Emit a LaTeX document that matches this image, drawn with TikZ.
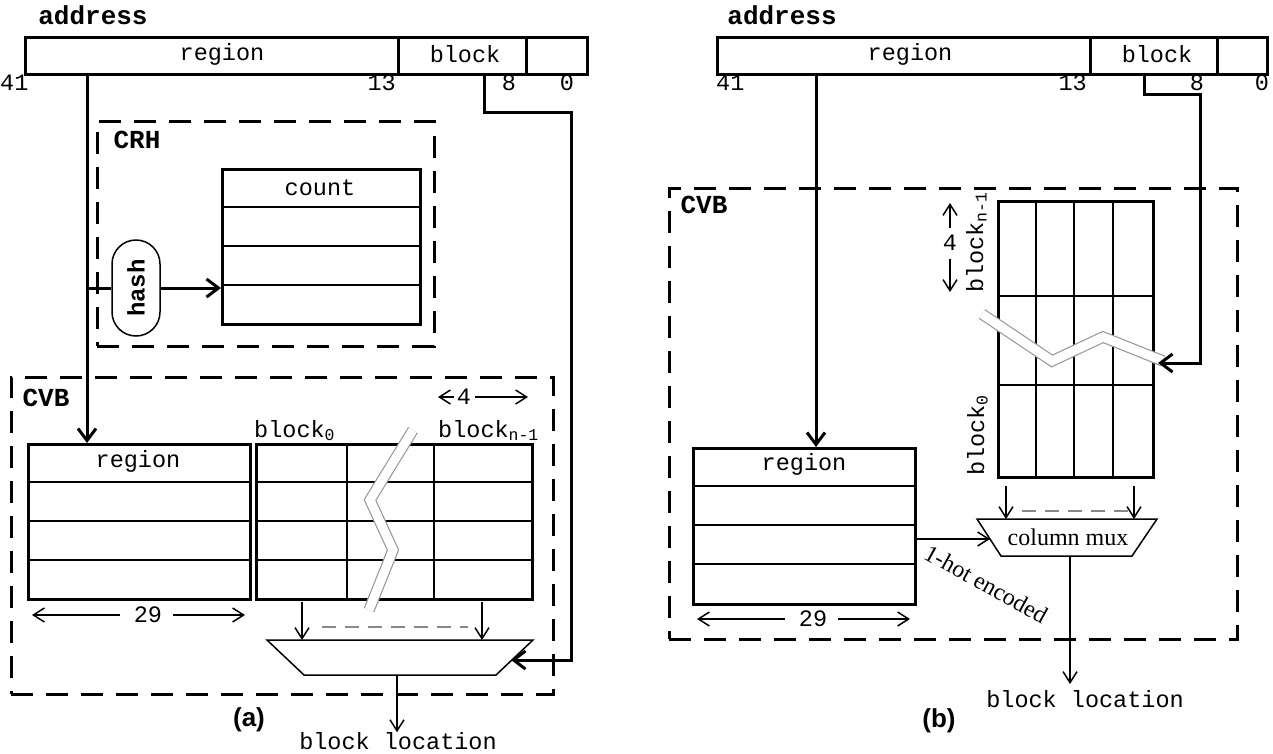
\documentclass[tikz,border=0pt]{standalone}
\usepackage{fontspec}
\setmainfont{Liberation Serif}
\setmonofont{Liberation Mono}
\newfontfamily\arialfont{Liberation Sans}
\usetikzlibrary{arrows.meta}
\definecolor{brk}{HTML}{999999}
\definecolor{dgray}{HTML}{888888}
\tikzset{
  mono/.style={font=\ttfamily\fontsize{23.5}{28}\selectfont, inner sep=0pt},
  lbl/.style={font=\ttfamily\bfseries\fontsize{26}{30}\selectfont, inner sep=0pt},
  captxt/.style={font=\arialfont\bfseries\fontsize{26}{30}\selectfont, inner sep=0pt},
  serif/.style={font=\fontsize{24}{28}\selectfont, inner sep=0pt},
  field/.style={draw, line width=3pt, inner sep=0pt, anchor=north west},
  tbl/.style={draw, line width=2.5pt, inner sep=0pt, anchor=north west},
  tline/.style={line width=2.5pt},
  dbox/.style={draw, line width=2.5pt, dash pattern=on 22pt off 13pt, inner sep=0pt, anchor=north west},
  wire/.style={line width=3pt, -{Straight Barb[length=12pt,width=18pt]}},
  wireplain/.style={line width=3pt},
  thin/.style={line width=1.5pt, -{Straight Barb[length=11pt,width=14pt]}},
  muxshape/.style={draw, line width=1.5pt, fill=white},
  brkline/.style={draw=brk, line width=1.2pt, double=white, double distance=9pt, line join=miter},
  gdash/.style={draw=dgray, line width=2pt, dash pattern=on 14pt off 9pt},
}
\begin{document}
\begin{tikzpicture}[x=1pt,y=-1pt]
\useasboundingbox (0,0) rectangle (1273,753);

%%%%%%%%%%%%%%%% LEFT PANEL (a)
\node[lbl] (addrA) at (93,15) {address};
\node[field, minimum width=373pt, minimum height=37pt] (fRegA) at (24,36) {};
\node[field, minimum width=128pt, minimum height=37pt] (fBlkA) at (397,36) {};
\node[field, minimum width=61pt, minimum height=37pt] (fLowA) at (525,36) {};
\node[mono] (tRegA) at (222,54) {region};
\node[mono] (tBlkA) at (465,54) {block};
\node[mono, anchor=base west] (n41A) at (0,90) {41};
\node[mono, anchor=base east] (n13A) at (396,90) {13};
\node[mono, anchor=base] (n8A) at (509,90) {8};
\node[mono, anchor=base] (n0A) at (567,90) {0};

% CRH
\node[dbox, minimum width=337pt, minimum height=225pt] (crh) at (96,120) {};
\node[lbl] (crhT) at (137,140) {CRH};
\node[tbl, minimum width=198pt, minimum height=155pt] (cnt) at (221,168) {};
\draw[tline] (221,207) -- (419,207) (221,246) -- (419,246) (221,285) -- (419,285);
\node[mono] (cntT) at (320,188) {count};

% CVB
\node[dbox, minimum width=542pt, minimum height=317pt] (cvbA) at (10,376) {};
\node[lbl] (cvbAT) at (46,398) {CVB};
\node[tbl, minimum width=222pt, minimum height=155pt] (regA) at (27,443) {};
\draw[tline] (27,482) -- (249,482) (27,521) -- (249,521) (27,560) -- (249,560);
\node[mono] (regAT) at (138,461) {region};
\node[tbl, minimum width=276pt, minimum height=155pt] (blkA) at (255,443) {};
\draw[tline] (255,482) -- (531,482) (255,521) -- (531,521) (255,560) -- (531,560)
  (347,443) -- (347,598) (434,443) -- (434,598);
\node[mono, anchor=base west] (b0A) at (254,437) {block\textsubscript{0}};
\node[mono, anchor=base west] (bnA) at (438,437) {block\textsubscript{n-1}};
% 4 dimension
\node[mono] (fourA) at (464,397) {4};
\draw[thin] (454,397) -- (438,397);
\draw[thin] (475,397) -- (528,397);
% 29 dimension
\node[mono] (ninA) at (148,615) {29};
\draw[thin] (120,615) -- (32,615);
\draw[thin] (173,615) -- (245,615);
% break
\draw[brkline] (413,430) -- (370,500) -- (393,550) -- (369,610);
% mux
\path[muxshape] (267,640) -- (533,640) -- (496,675) -- (304,675) -- cycle;
\coordinate (muxAin1) at (302,640);
\coordinate (muxAin2) at (482,640);
\coordinate (muxAR) at (511,660);
\coordinate (muxAout) at (397,675);
\draw[thin] (302,602) -- (muxAin1);
\draw[thin] (482,602) -- (muxAin2);
\draw[gdash] (322,627) -- (468,627);
\node[captxt] (capA) at (249,720) {(a)};
\node[mono] (locA) at (398,741) {block location};
\draw[thin] (muxAout) -- (locA.north -| muxAout);

% wires
\coordinate (rA) at (87,73);
\coordinate (hsA) at (87,288);
\draw[wire] (rA) -- (rA |- regA.north);
\node[draw, line width=1.5pt, fill=white, rounded corners=24pt, minimum width=96pt, minimum height=48pt, rotate=90, font=\ttfamily\bfseries\fontsize{24}{28}\selectfont, inner sep=0pt] (hash) at (136,288) {hash};
\draw[wireplain] (hsA) -- (hash);
\draw[wire] (hash) -- (cnt.west |- hash);
\coordinate (bA) at (484,73);
\draw[wire] (bA) -- (484,112) -| (571,660) -- (muxAR);

%%%%%%%%%%%%%%%% RIGHT PANEL (b)
\node[lbl] (addrB) at (782,15) {address};
\node[field, minimum width=373pt, minimum height=37pt] (fRegB) at (716,36) {};
\node[field, minimum width=127pt, minimum height=37pt] (fBlkB) at (1089,36) {};
\node[field, minimum width=50pt, minimum height=37pt] (fLowB) at (1216,36) {};
\node[mono] (tRegB) at (910,54) {region};
\node[mono] (tBlkB) at (1157,54) {block};
\node[mono, anchor=base west] (n41B) at (716,90) {41};
\node[mono, anchor=base east] (n13B) at (1087,90) {13};
\node[mono, anchor=base] (n8B) at (1197,90) {8};
\node[mono, anchor=base] (n0B) at (1262,90) {0};

\node[dbox, minimum width=568pt, minimum height=451pt] (cvbB) at (668,187) {};
\node[lbl] (cvbBT) at (704,205) {CVB};

% vertical block table
\node[tbl, minimum width=155pt, minimum height=276pt] (blkB) at (997,200) {};
\draw[tline] (1036,200) -- (1036,476) (1074,200) -- (1074,476) (1113,200) -- (1113,476)
  (997,296) -- (1152,296) (997,385) -- (1152,385);
\node[mono, rotate=90, anchor=base east] (bnB) at (983,192) {block\textsubscript{n-1}};
\node[mono, rotate=90, anchor=base west] (b0B) at (984,476) {block\textsubscript{0}};
\node[mono] (fourB) at (950,243) {4};
\draw[thin] (950,228) -- (950,203);
\draw[thin] (950,259) -- (950,292);
\draw[brkline] (982,314) -- (1052,361) -- (1103,337) -- (1163,361);

% region table
\node[tbl, minimum width=222pt, minimum height=156pt] (regB) at (692,447) {};
\draw[tline] (692,486) -- (914,486) (692,525) -- (914,525) (692,564) -- (914,564);
\node[mono] (regBT) at (804,464) {region};
\node[mono] (ninB) at (813,619) {29};
\draw[thin] (785,619) -- (697,619);
\draw[thin] (838,619) -- (910,619);

% column mux
\path[muxshape] (977,519) -- (1157,519) -- (1132,556) -- (1001,556) -- cycle;
\node[serif] (muxBT) at (1068,537) {column mux};
\coordinate (muxBin1) at (1006,519);
\coordinate (muxBin2) at (1134,519);
\coordinate (muxBL) at (990,539);
\coordinate (muxBout) at (1070,556);
\draw[thin] (1006,486) -- (muxBin1);
\draw[thin] (1134,486) -- (muxBin2);
\draw[gdash] (1022,511) -- (1128,511);
\coordinate (hotS) at (914,539);
\draw[thin] (hotS) -- (muxBL);
\node[serif, rotate=-29] (hot) at (986,584) {1-hot encoded};
\node[mono] (locB) at (1085,699) {block location};
\draw[thin] (muxBout) -- (1070,684);
\node[captxt] (capB) at (939,721) {(b)};

% wires
\coordinate (rB) at (816,73);
\draw[wire] (rB) -- (rB |- regB.north);
\coordinate (bB) at (1144,73);
\coordinate (bBend) at (1158,363);
\draw[wire] (bB) -- (1144,94) -| (1200,363) -- (bBend);
\end{tikzpicture}
\end{document}
